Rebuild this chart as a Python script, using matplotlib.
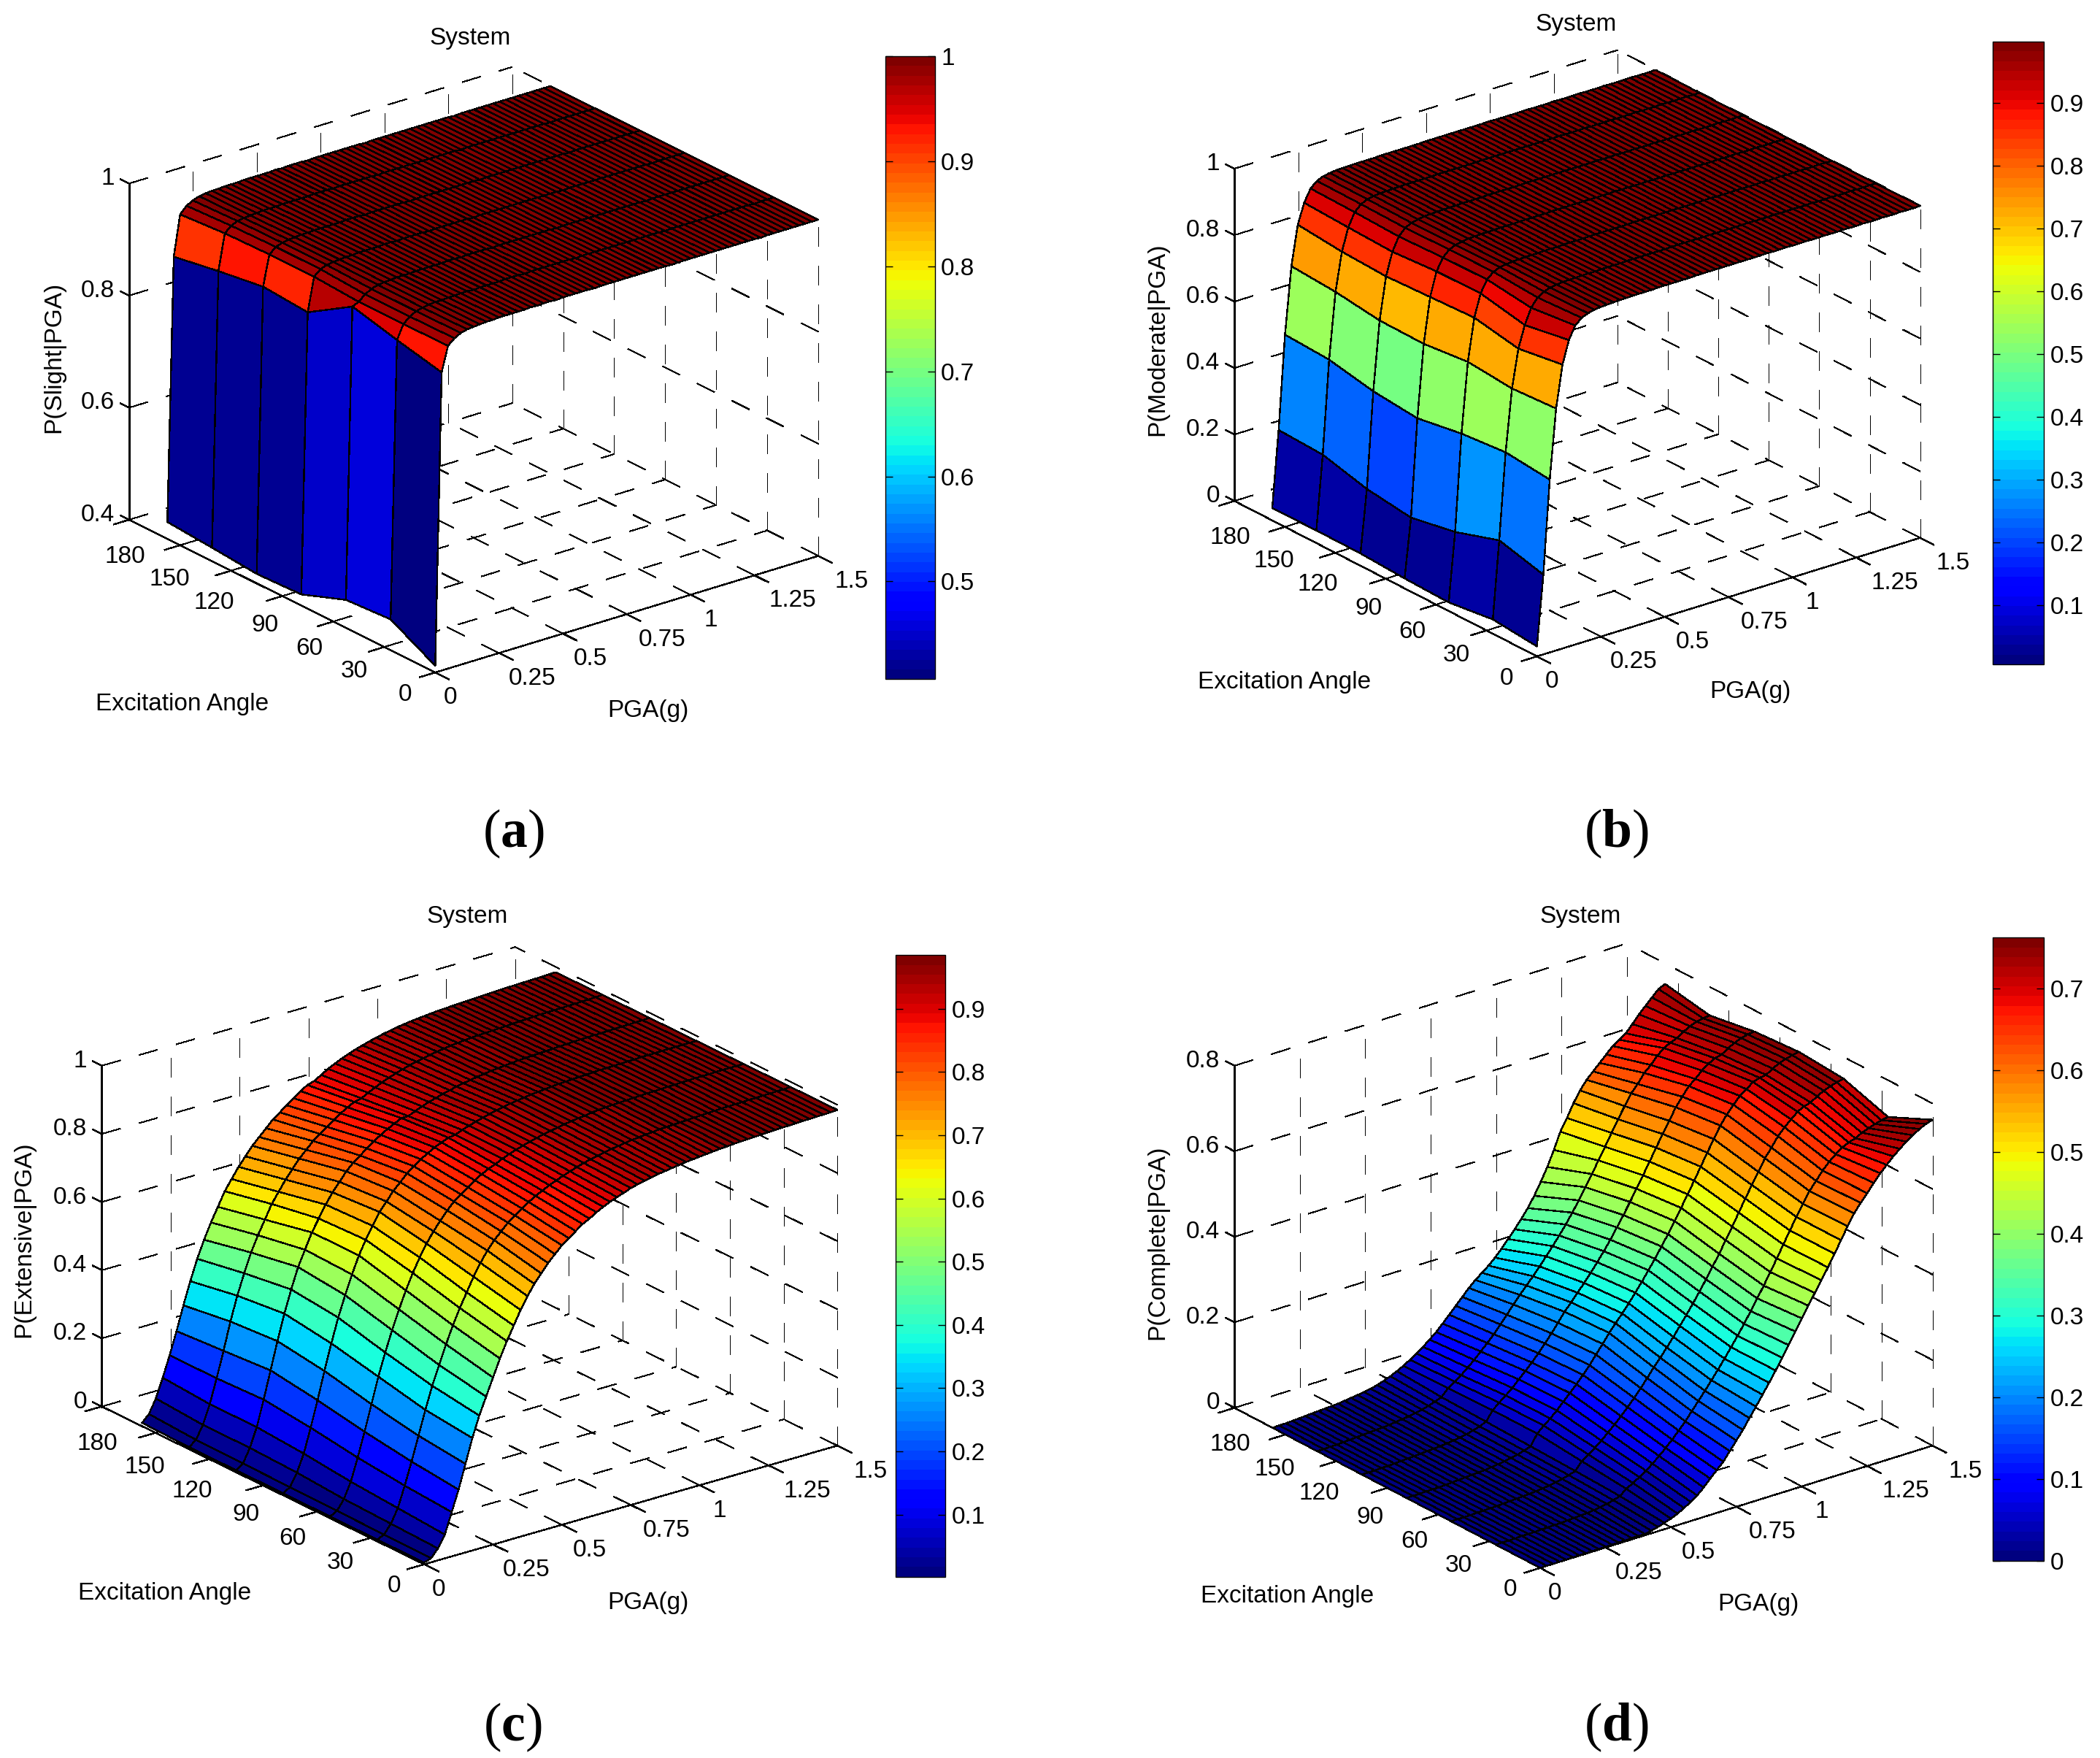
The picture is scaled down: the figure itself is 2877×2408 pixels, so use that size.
import numpy as np
import matplotlib
matplotlib.use("Agg")
from matplotlib import pyplot as plt
from matplotlib import cm, colors
from mpl_toolkits.mplot3d import proj3d

plt.rcParams['font.family'] = ['Liberation Sans', 'DejaVu Sans']
plt.rcParams['mathtext.fontset'] = 'custom'
plt.rcParams['mathtext.rm'] = 'Liberation Serif'
plt.rcParams['mathtext.bf'] = 'Liberation Serif:bold'
plt.rcParams['lines.scale_dashes'] = False

W, H = 2877, 2408
K = 2877 / 1568  # positions below were read on the 1568 wide view

# data
PGA = [0, .025, .05, .075, .1, .125, .15, .175, .2, .225, .25, .275, .3, .325, .35, .375, .4, .425, .45, .475,
       .5, .525, .55, .575, .6, .625, .65, .675, .7, .725, .75, .775, .8, .825, .85, .875, .9, .925, .95, .975,
       1, 1.025, 1.05, 1.075, 1.1, 1.125, 1.15, 1.175, 1.2, 1.225, 1.25, 1.275, 1.3, 1.325, 1.35, 1.375, 1.4,
       1.425, 1.45, 1.475, 1.5]
ANGLE = [0, 26.25, 52.5, 78.75, 105, 131.25, 157.5]
PGA_TICKS = [0, .25, .5, .75, 1, 1.25, 1.5]
PGA_LABELS = ['0', '0.25', '0.5', '0.75', '1', '1.25', '1.5']
ANGLE_TICKS = [0, 30, 60, 90, 120, 150, 180]

# one row per PGA value, one column per angle
Z_SLIGHT = [
    [.412, .455, .45, .42, .417, .424, .43],
    [.932, .95, .97, .92, .926, .914, .90],
    [.976, .975, .975, .98, .98, .978, .972],
    [.986, .985, .985, .99, .99, .988, .984],
    [.992, .991, .991, .994, .994, .993, .99],
    [.995, .994, .995, .996, .996, .995, .994],
    [.996, .996, .996, .997, .997, .996, .996],
    [.997, .997, .997, .998, .998, .997, .997],
    [.998, .997, .998, .998, .998, .998, .997],
    [.998, .998, .998, .999, .999, .998, .998],
    [.999, .998, .998, .999, .999, .998, .998],
    [.999, .999, .999, .999, .999, .999, .998],
    [.999, .999, .999, .999, .999, .999, .999],
    [.999, .998, .999, 1, .999, .999, .999],
    [.999, .999, .999, 1, 1, .999, .999],
    [1, .999, .999, .999, 1, .999, .999],
    [.999, .999, 1, 1, 1, 1, .999],
    [1, .999, 1, 1, .999, 1, 1],
    [1, 1, .999, 1, 1, 1, .999],
    [.999, 1, 1, 1, 1, .999, 1],
    [1, 1, 1, .999, 1, 1, 1],
    [1, .999, 1, 1, 1, 1, 1],
    [1, 1, 1, 1, 1, 1, .999],
    [1, 1, .999, 1, 1, 1, 1],
    [1, 1, 1, 1, .999, 1, 1],
    [.999, 1, 1, 1, 1, 1, 1],
    [1, 1, 1, 1, 1, .999, 1],
    [1, 1, 1, .999, 1, 1, 1],
    [1, 1, 1, 1, 1, 1, 1],
    [1, .999, 1, 1, 1, 1, 1],
    [1, 1, 1, 1, 1, 1, 1],
    [1, 1, 1, 1, 1, 1, .999],
    [1, 1, 1, 1, 1, 1, 1],
    [1, 1, .999, 1, 1, 1, 1],
    [1, 1, 1, 1, 1, 1, 1],
    [1, 1, 1, 1, .999, 1, 1],
    [1, 1, 1, 1, 1, 1, 1],
    [.999, 1, 1, 1, 1, 1, 1],
    [1, 1, 1, 1, 1, 1, 1],
    [1, 1, 1, 1, 1, .999, 1],
    [1, 1, 1, 1, 1, 1, 1],
    [1, 1, 1, .999, 1, 1, 1],
    [1, 1, 1, 1, 1, 1, 1],
    [1, .999, 1, 1, 1, 1, 1],
    [1, 1, 1, 1, 1, 1, 1],
    [1, 1, 1, 1, 1, 1, .999],
    [1, 1, 1, 1, 1, 1, 1],
    [1, 1, .999, 1, 1, 1, 1],
    [1, 1, 1, 1, 1, 1, 1],
    [1, 1, 1, 1, .999, 1, 1],
    [1, 1, 1, 1, 1, 1, 1],
    [.999, 1, 1, 1, 1, 1, 1],
    [1, 1, 1, 1, 1, 1, 1],
    [1, 1, 1, 1, 1, .999, 1],
    [1, 1, 1, 1, 1, 1, 1],
    [1, 1, 1, .999, 1, 1, 1],
    [1, 1, 1, 1, 1, 1, 1],
    [1, .999, 1, 1, 1, 1, 1],
    [1, 1, 1, 1, 1, 1, 1],
    [1, 1, 1, 1, 1, 1, 1],
    [1, 1, 1, 1, 1, 1, 1],
]
Z_MODERATE = [
    [.03, .043, .026, .03, .037, .038, .037],
    [.24, .275, .232, .207, .225, .26, .266],
    [.52, .534, .522, .50, .513, .54, .547],
    [.728, .72, .732, .718, .72, .738, .747],
    [.854, .834, .859, .853, .847, .853, .866],
    [.922, .899, .926, .924, .915, .92, .926],
    [.96, .945, .962, .96, .955, .96, .963],
    [.977, .97, .979, .978, .975, .978, .98],
    [.985, .982, .987, .986, .984, .987, .988],
    [.99, .988, .99, .99, .989, .991, .992],
    [.992, .991, .992, .993, .992, .993, .994],
    [.993, .993, .993, .994, .993, .994, .995],
    [.994, .994, .994, .995, .994, .995, .995],
    [.995, .994, .994, .995, .995, .995, .996],
    [.995, .995, .994, .996, .995, .996, .996],
    [.996, .995, .995, .996, .995, .996, .996],
    [.996, .995, .995, .996, .996, .996, .996],
    [.996, .996, .995, .996, .996, .996, .997],
    [.996, .996, .996, .997, .996, .996, .997],
    [.997, .996, .996, .997, .996, .997, .997],
    [.997, .996, .996, .997, .997, .997, .997],
    [.997, .997, .996, .997, .997, .997, .997],
    [.997, .997, .997, .997, .997, .997, .997],
    [.997, .997, .997, .998, .997, .997, .997],
    [.997, .997, .997, .998, .997, .997, .998],
    [.998, .997, .997, .998, .997, .997, .998],
    [.998, .997, .997, .998, .998, .998, .998],
    [.998, .997, .997, .998, .998, .998, .998],
    [.998, .998, .997, .998, .998, .998, .998],
    [.998, .998, .998, .998, .998, .998, .998],
    [.998, .998, .998, .998, .998, .998, .998],
    [.998, .998, .998, .998, .998, .998, .998],
    [.998, .998, .998, .998, .998, .998, .998],
    [.998, .998, .998, .999, .998, .998, .998],
    [.998, .998, .998, .998, .998, .998, .999],
    [.998, .998, .998, .999, .998, .998, .998],
    [.999, .998, .998, .998, .998, .998, .998],
    [.998, .998, .998, .998, .999, .998, .998],
    [.998, .998, .998, .999, .998, .999, .998],
    [.999, .998, .998, .998, .998, .998, .998],
    [.998, .999, .998, .998, .999, .998, .999],
    [.998, .998, .999, .999, .998, .998, .998],
    [.999, .998, .998, .998, .998, .999, .998],
    [.998, .998, .998, .999, .999, .998, .998],
    [.998, .999, .998, .998, .998, .998, .999],
    [.999, .998, .999, .998, .998, .998, .998],
    [.998, .998, .998, .999, .999, .999, .998],
    [.998, .999, .998, .998, .998, .998, .998],
    [.999, .998, .998, .998, .998, .998, .999],
    [.998, .998, .999, .999, .999, .998, .998],
    [.998, .999, .998, .998, .998, .999, .998],
    [.999, .998, .998, .998, .998, .998, .998],
    [.998, .998, .999, .999, .999, .998, .999],
    [.998, .999, .998, .998, .998, .998, .998],
    [.999, .998, .998, .998, .998, .999, .998],
    [.998, .998, .999, .999, .998, .998, .998],
    [.998, .999, .998, .998, .999, .998, .999],
    [.999, .998, .998, .998, .998, .998, .998],
    [.998, .998, .999, .999, .998, .999, .998],
    [.998, .999, .998, .998, .999, .998, .998],
    [.999, .998, .998, .998, .998, .998, .999],
]
Z_EXTENSIVE = [
    [.005, .005, .005, .006, .006, .006, .01],
    [.012, .014, .016, .018, .02, .022, .03],
    [.035, .04, .045, .055, .06, .06, .07],
    [.07, .08, .09, .105, .115, .115, .125],
    [.13, .14, .155, .175, .19, .185, .185],
    [.19, .205, .225, .25, .27, .26, .25],
    [.26, .275, .30, .33, .35, .34, .32],
    [.33, .345, .375, .405, .425, .41, .385],
    [.39, .41, .44, .475, .49, .47, .445],
    [.44, .465, .50, .535, .55, .525, .495],
    [.49, .52, .555, .59, .595, .57, .54],
    [.54, .57, .605, .64, .64, .61, .58],
    [.585, .615, .65, .68, .675, .65, .62],
    [.625, .655, .69, .715, .71, .68, .65],
    [.665, .695, .725, .75, .74, .71, .68],
    [.70, .73, .755, .775, .765, .735, .705],
    [.73, .76, .78, .80, .79, .76, .73],
    [.755, .785, .805, .82, .81, .78, .75],
    [.78, .805, .825, .84, .825, .80, .77],
    [.80, .825, .84, .855, .84, .815, .79],
    [.82, .84, .855, .87, .855, .83, .805],
    [.835, .855, .87, .882, .868, .845, .82],
    [.85, .868, .882, .893, .88, .858, .835],
    [.865, .88, .892, .902, .89, .87, .85],
    [.875, .89, .90, .91, .90, .88, .862],
    [.888, .90, .91, .913, .90, .885, .868],
    [.898, .908, .918, .921, .909, .895, .88],
    [.907, .916, .925, .928, .917, .905, .892],
    [.915, .923, .931, .934, .924, .914, .902],
    [.922, .93, .937, .94, .93, .922, .911],
    [.93, .936, .942, .945, .936, .929, .919],
    [.935, .941, .947, .95, .941, .935, .926],
    [.94, .946, .951, .954, .946, .941, .932],
    [.944, .95, .955, .958, .95, .946, .938],
    [.948, .954, .959, .961, .954, .95, .943],
    [.951, .957, .962, .964, .957, .954, .948],
    [.954, .96, .965, .967, .96, .958, .952],
    [.957, .963, .967, .969, .963, .961, .956],
    [.96, .965, .97, .971, .965, .964, .959],
    [.962, .967, .972, .973, .967, .966, .962],
    [.964, .969, .974, .975, .969, .968, .964],
    [.966, .971, .975, .976, .971, .97, .966],
    [.968, .972, .976, .977, .972, .971, .968],
    [.97, .973, .977, .978, .973, .972, .97],
    [.971, .974, .978, .979, .974, .973, .971],
    [.973, .975, .979, .98, .975, .974, .972],
    [.974, .976, .98, .981, .976, .975, .973],
    [.975, .977, .98, .981, .977, .976, .974],
    [.976, .978, .981, .982, .978, .977, .975],
    [.977, .979, .982, .982, .979, .978, .976],
    [.978, .98, .982, .983, .98, .979, .977],
    [.979, .98, .983, .983, .98, .98, .978],
    [.98, .981, .983, .984, .981, .98, .979],
    [.98, .981, .984, .984, .981, .981, .98],
    [.981, .982, .984, .984, .982, .981, .98],
    [.982, .982, .984, .985, .982, .982, .981],
    [.982, .983, .985, .985, .983, .982, .981],
    [.983, .983, .985, .985, .983, .983, .982],
    [.983, .984, .985, .985, .984, .983, .982],
    [.984, .984, .985, .985, .984, .984, .983],
    [.985, .985, .985, .985, .985, .985, .984],
]
Z_COMPLETE = [
    [0, 0, 0, 0, 0, 0, 0],
    [0, 0, 0, 0, 0, 0, .001],
    [0, 0, 0, 0, 0, .001, .001],
    [0, 0, 0, .001, .001, .001, .002],
    [0, .001, .001, .001, .001, .002, .003],
    [.001, .001, .001, .001, .002, .003, .004],
    [.001, .001, .002, .002, .003, .004, .005],
    [.001, .002, .002, .003, .004, .005, .006],
    [.001, .002, .003, .004, .005, .006, .007],
    [.001, .003, .004, .005, .006, .007, .008],
    [.002, .003, .005, .006, .007, .008, .009],
    [.002, .004, .006, .007, .008, .009, .011],
    [.002, .005, .007, .008, .009, .011, .013],
    [.002, .006, .008, .01, .011, .013, .015],
    [.003, .007, .01, .012, .013, .015, .017],
    [.003, .009, .012, .014, .015, .018, .02],
    [.003, .011, .015, .017, .018, .021, .024],
    [.006, .014, .018, .02, .022, .025, .029],
    [.01, .018, .022, .025, .027, .03, .035],
    [.015, .023, .027, .03, .033, .036, .042],
    [.02, .035, .045, .055, .055, .052, .05],
    [.027, .044, .056, .069, .068, .063, .059],
    [.035, .053, .067, .081, .08, .073, .069],
    [.045, .063, .079, .095, .093, .086, .08],
    [.055, .075, .093, .111, .108, .099, .092],
    [.069, .088, .107, .126, .123, .114, .105],
    [.085, .102, .122, .142, .138, .129, .12],
    [.1, .117, .138, .159, .155, .145, .136],
    [.115, .133, .155, .177, .173, .163, .152],
    [.135, .15, .173, .197, .192, .181, .168],
    [.155, .169, .192, .217, .212, .2, .184],
    [.175, .188, .212, .238, .233, .218, .198],
    [.198, .207, .23, .256, .25, .235, .21],
    [.22, .227, .249, .274, .268, .252, .222],
    [.243, .247, .269, .293, .286, .27, .236],
    [.266, .268, .29, .313, .305, .289, .252],
    [.29, .29, .311, .334, .325, .308, .27],
    [.315, .312, .333, .356, .346, .328, .288],
    [.34, .335, .356, .378, .368, .349, .307],
    [.367, .36, .38, .402, .392, .372, .328],
    [.393, .385, .405, .426, .416, .396, .352],
    [.418, .41, .43, .452, .442, .422, .38],
    [.443, .437, .457, .478, .468, .448, .41],
    [.468, .464, .484, .505, .495, .475, .445],
    [.493, .492, .512, .532, .522, .502, .483],
    [.52, .52, .54, .56, .55, .53, .51],
    [.547, .547, .567, .588, .577, .557, .54],
    [.575, .573, .593, .615, .603, .583, .565],
    [.60, .598, .62, .642, .63, .608, .585],
    [.62, .617, .64, .663, .65, .625, .60],
    [.638, .636, .662, .681, .67, .646, .615],
    [.657, .652, .678, .697, .682, .66, .63],
    [.675, .665, .692, .708, .697, .677, .645],
    [.69, .676, .705, .72, .708, .69, .655],
    [.705, .683, .713, .725, .716, .698, .665],
    [.718, .688, .717, .727, .72, .704, .682],
    [.73, .696, .727, .737, .73, .714, .70],
    [.74, .702, .735, .745, .738, .722, .715],
    [.75, .707, .741, .75, .744, .728, .73],
    [.757, .711, .745, .754, .748, .731, .745],
    [.762, .714, .749, .757, .75, .733, .752],
]

# panel layout, in px of the 1568 wide view
panels = [
    dict(z=Z_SLIGHT, zlim=(.4, 1), zticks=[.4, .6, .8, 1], zlabels=['0.4', '0.6', '0.8', '1'],
         clim=(.407, 1), cticks=[.5, .6, .7, .8, .9, 1], clabels=['0.5', '0.6', '0.7', '0.8', '0.9', '1'],
         ylabel='P(Slight|PGA)', front=(325, 502), right=(611, 415), left=(96.4, 388), top=(96.4, 137),
         cbar=(661, 42, 698, 507), title=(351, 27), yl=(40, 265), xl=(484, 529), al=(136, 524), cap=(383.6, 621), tag='a'),
    dict(z=Z_MODERATE, zlim=(0, 1), zticks=[0, .2, .4, .6, .8, 1], zlabels=['0', '0.2', '0.4', '0.6', '0.8', '1'],
         clim=(.006, .998), cticks=[.1, .2, .3, .4, .5, .6, .7, .8, .9],
         clabels=['0.1', '0.2', '0.3', '0.4', '0.5', '0.6', '0.7', '0.8', '0.9'],
         ylabel='P(Moderate|PGA)', front=(1147.6, 490), right=(1433.7, 401.5), left=(921.7, 374), top=(921.7, 125.9),
         cbar=(1488, 31, 1526, 496), title=(1177, 17), yl=(864, 252), xl=(1307, 515), al=(959, 508), cap=(1207, 621), tag='b'),
    dict(z=Z_EXTENSIVE, zlim=(0, 1), zticks=[0, .2, .4, .6, .8, 1], zlabels=['0', '0.2', '0.4', '0.6', '0.8', '1'],
         clim=(.002, .985), cticks=[.1, .2, .3, .4, .5, .6, .7, .8, .9],
         clabels=['0.1', '0.2', '0.3', '0.4', '0.5', '0.6', '0.7', '0.8', '0.9'],
         ylabel='P(Extensive|PGA)', front=(316.7, 1167.8), right=(625.3, 1079.2), left=(76, 1050), top=(76, 795.6),
         cbar=(669, 713, 706, 1177), title=(349, 683), yl=(18, 924), xl=(484, 1195), al=(123, 1188), cap=(383, 1288), tag='c'),
    dict(z=Z_COMPLETE, zlim=(0, .8), zticks=[0, .2, .4, .6, .8], zlabels=['0', '0.2', '0.4', '0.6', '0.8'],
         clim=(0, .762), cticks=[0, .1, .2, .3, .4, .5, .6, .7],
         clabels=['0', '0.1', '0.2', '0.3', '0.4', '0.5', '0.6', '0.7'],
         ylabel='P(Complete|PGA)', front=(1150, 1170.5), right=(1443, 1079.2), left=(921.7, 1051), top=(921.7, 795.6),
         cbar=(1488, 700, 1526, 1165), title=(1180, 683), yl=(864, 926), xl=(1313, 1196), al=(961, 1190), cap=(1207, 1288), tag='d'),
]

FS = 24
DASH = (0, (19, 19))
LW = 1.0

fig = plt.figure(figsize=(W / 100, H / 100), dpi=100)
jet = plt.get_cmap('jet', 64)


def put_text(x, y, s, **kw):
    # x, y in px of the 1568 view, y going down
    return fig.text(x * K / W, 1 - (y + 1.5) * K / H, s, **kw)


def to_view(ax, x, y, z):
    xs, ys, _ = proj3d.proj_transform(x, y, z, ax.get_proj())
    px, py = ax.transData.transform((xs, ys))
    return px / K, (H - py) / K


def make_axes(p):
    # get view angles and box shape from the corners of the box seen in the picture
    fr, ri, le, to = [np.array(p[k], float) for k in ('front', 'right', 'left', 'top')]
    xr, xu = ri[0] - fr[0], fr[1] - ri[1]
    yl, yu = fr[0] - le[0], fr[1] - le[1]
    zu = le[1] - to[1]
    e = np.sqrt(xu * yu / (xr * yl))
    a = np.arctan2(xr * e, xu)
    elev = np.degrees(np.arcsin(e))
    bx, by, bz = xr / np.sin(a), yl / np.cos(a), zu / np.cos(np.arcsin(e))

    size = 1400.0
    ax = fig.add_axes([0.1, 0.1, size / W, size / H], projection='3d', computed_zorder=False)
    ax.set_proj_type('ortho')
    ax.view_init(elev=elev, azim=180 + np.degrees(a))
    ax.set_box_aspect((bx, by, bz))
    ax.set_xlim(0, 1.5, view_margin=0)
    ax.set_ylim(0, 180, view_margin=0)
    ax.set_zlim(*p['zlim'], view_margin=0)
    ax.set_axis_off()

    # scale then shift the square axes until the box sits on the corners
    ax.apply_aspect()
    a0 = np.array(to_view(ax, 0, 0, p['zlim'][0]))
    a1 = np.array(to_view(ax, 1.5, 0, p['zlim'][0]))
    size = size * np.hypot(*(ri - fr)) / np.hypot(*(a1 - a0))
    ax.set_position([0.1, 0.1, size / W, size / H])
    ax.apply_aspect()
    a0 = np.array(to_view(ax, 0, 0, p['zlim'][0]))
    dx, dy = (fr - a0) * K
    ax.set_position([0.1 + dx / W, 0.1 - dy / H, size / W, size / H])
    ax.apply_aspect()
    return ax


def draw_box(ax, p):
    z0, z1 = p['zlim']
    grid = dict(color='k', lw=LW, ls=DASH, zorder=1, antialiased=False)
    solid = dict(color='k', lw=LW, zorder=1.5, antialiased=False)
    for a in ANGLE_TICKS[1:]:
        ax.plot([0, 1.5], [a, a], [z0, z0], **grid)
    for a in ANGLE_TICKS:
        ax.plot([1.5, 1.5], [a, a], [z0, z1], **grid)
    for g in PGA_TICKS[1:]:
        ax.plot([g, g], [0, 180], [z0, z0], **grid)
        ax.plot([g, g], [180, 180], [z0, z1], **grid)
    for t in p['zticks'][1:]:
        ax.plot([0, 1.5], [180, 180], [t, t], **grid)
        ax.plot([1.5, 1.5], [0, 180], [t, t], **grid)
    ax.plot([0, 1.5], [0, 0], [z0, z0], **solid)
    ax.plot([0, 0], [0, 180], [z0, z0], **solid)
    ax.plot([0, 0], [180, 180], [z0, z1], **solid)
    # outward ticks
    for g in PGA_TICKS:
        ax.plot([g, g], [0, -8], [z0, z0], **solid)
    for a in ANGLE_TICKS:
        ax.plot([0, -.06], [a, a], [z0, z0], **solid)
    for t in p['zticks']:
        ax.plot([0, 0], [180, 185], [t, t], **solid)


for p in panels:
    ax = make_axes(p)
    draw_box(ax, p)
    z = np.array(p['z'], float)
    X, Y = np.meshgrid(PGA, ANGLE, indexing='ij')
    norm = colors.Normalize(*p['clim'])
    # flat shading from the first corner of each face
    surf = ax.plot_surface(X, Y, z, rstride=1, cstride=1, facecolors=jet(norm(z)), shade=False, zorder=2)
    surf.set_edgecolor('k')
    surf.set_linewidth(1.0)
    surf.set_antialiased(False)

    z0 = p['zlim'][0]
    for g, s in zip(PGA_TICKS, PGA_LABELS):
        tx, ty = to_view(ax, g, 0, z0)
        put_text(tx + 6 + 4 * g, ty + 17.5, s, ha='left', va='center', fontsize=FS)
    for a in ANGLE_TICKS:
        tx, ty = to_view(ax, 0, a, z0)
        put_text(tx - 17.5 + 29.5 * a / 180, ty + 15 + 11 * a / 180, str(a), ha='right', va='center', fontsize=FS)
    for t, s in zip(p['zticks'], p['zlabels']):
        tx, ty = to_view(ax, 0, 180, t)
        put_text(tx - 11, ty - 5, s, ha='right', va='center', fontsize=FS)

    put_text(*p['title'], 'System', ha='center', va='center', fontsize=FS)
    put_text(*p['yl'], p['ylabel'], ha='center', va='center', rotation=90, fontsize=FS)
    put_text(*p['xl'], 'PGA(g)', ha='center', va='center', fontsize=FS)
    put_text(*p['al'], 'Excitation Angle', ha='center', va='center', fontsize=FS)
    put_text(*p['cap'], r'$\mathrm{(}\mathbf{%s}\mathrm{)}$' % p['tag'], ha='center', va='center', fontsize=53)

    x0, y0, x1, y1 = p['cbar']
    cax = fig.add_axes([x0 * K / W, 1 - y1 * K / H, (x1 - x0) * K / W, (y1 - y0) * K / H])
    cb = fig.colorbar(cm.ScalarMappable(norm=norm, cmap=jet), cax=cax)
    cb.set_ticks(p['cticks'], labels=p['clabels'])
    cax.tick_params(axis='y', direction='in', left=True, right=True, length=7, width=LW, labelsize=FS, pad=6)
    cb.outline.set_linewidth(LW)

fig.savefig('out.png', dpi=100)
plt.close(fig)
